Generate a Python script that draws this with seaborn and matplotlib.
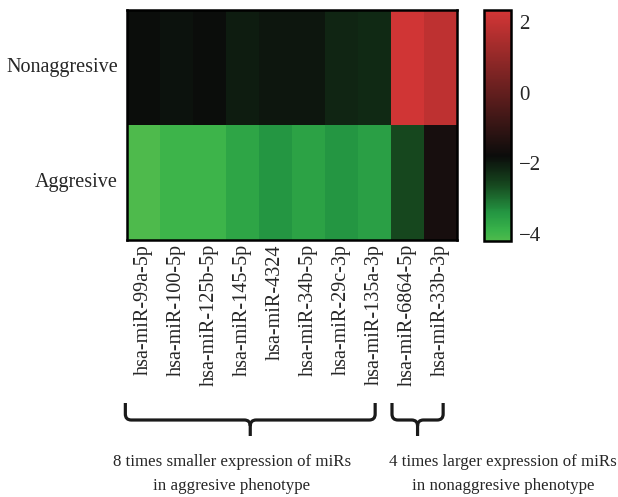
import numpy as np
import pandas as pd
import matplotlib
matplotlib.use("Agg")
import matplotlib.pyplot as plt
import seaborn as sns
from matplotlib.colors import LinearSegmentedColormap
from matplotlib.path import Path
from matplotlib.patches import PathPatch
from matplotlib.transforms import blended_transform_factory

# ---------------- data ----------------
mirnas = ["hsa-miR-99a-5p", "hsa-miR-100-5p", "hsa-miR-125b-5p", "hsa-miR-145-5p",
          "hsa-miR-4324", "hsa-miR-34b-5p", "hsa-miR-29c-3p", "hsa-miR-135a-3p",
          "hsa-miR-6864-5p", "hsa-miR-33b-3p"]
phenotypes = ["Nonaggresive", "Aggresive"]
nonaggressive_values = [-1.82, -1.88, -1.82, -2.0, -1.93, -1.93, -2.15, -2.2, 2.27, 1.88]
aggressive_values = [-4.2, -3.95, -3.95, -3.65, -3.4, -3.6, -3.4, -3.55, -2.6, -1.55]
colorbar_ticks = [2, 0, -2, -4]
group_text = ["8 times smaller expression of miRs\nin aggresive phenotype",
              "4 times larger expression of miRs\nin nonaggresive phenotype"]

df = pd.DataFrame([nonaggressive_values, aggressive_values], index=phenotypes, columns=mirnas)

# ---------------- style ----------------
sns.set_style("white")
plt.rcParams["font.family"] = ["Liberation Serif", "DejaVu Serif"]
plt.rcParams["axes.unicode_minus"] = True

vmin, vmax = -4.2, 2.35
stops_v = [-4.2, -3.9, -3.4, -2.6, -1.8, 2.35]
stops_c = ["#4eba4c", "#38b24a", "#249642", "#16461e", "#0b0c0b", "#d43636"]
cmap = LinearSegmentedColormap.from_list(
    "gbr", [((v - vmin) / (vmax - vmin), c) for v, c in zip(stops_v, stops_c)])

fig = plt.figure(figsize=(6.18, 4.97), dpi=100)
W, H = 618, 497
ax = fig.add_axes([127 / W, 1 - 240 / H, 330 / W, 230 / H])
cax = fig.add_axes([484 / W, 1 - 241 / H, 27 / W, 231 / H])

sns.heatmap(df, ax=ax, cbar_ax=cax, cmap=cmap, vmin=vmin, vmax=vmax,
            cbar_kws={"ticks": colorbar_ticks})

for sp in ax.spines.values():
    sp.set_visible(True)
    sp.set_linewidth(1.8)
    sp.set_color("black")

ax.tick_params(axis="both", length=0, labelsize=14.5)
ax.tick_params(axis="x", pad=3)
ax.set_xticklabels(mirnas, rotation=90)
ax.set_yticklabels(phenotypes, rotation=0, fontsize=14.5)
ax.tick_params(axis="y", pad=6.5)
ax.set_xlabel("")
ax.set_ylabel("")

cbar = ax.collections[0].colorbar
cbar.outline.set_linewidth(1.8)
cbar.outline.set_edgecolor("black")
cax.tick_params(direction="in", left=True, right=True, length=4, width=1.5,
                color="black", labelsize=15, labelleft=False, labelright=True, pad=6)
cbar.set_ticklabels(["2", "0", "\u22122", "\u22124"])

# ---------------- braces ----------------
trans = blended_transform_factory(ax.transData, fig.transFigure)
brace_extents = [(-0.05, 7.52), (8.03, 9.58)]
ytop, yh, ytip = 1 - 403 / H, 1 - 420 / H, 1 - 436 / H
ey = 0.012
for x0, x1 in brace_extents:
    xm = (x0 + x1) / 2
    dx = 0.18
    verts = [(x0, ytop), (x0, yh + ey), (x0, yh), (x0 + dx, yh),
             (xm - dx, yh), (xm, yh), (xm, yh - ey), (xm, ytip),
             (x1, ytop), (x1, yh + ey), (x1, yh), (x1 - dx, yh),
             (xm + dx, yh), (xm, yh), (xm, yh - ey)]
    codes = [Path.MOVETO, Path.LINETO, Path.CURVE3, Path.CURVE3,
             Path.LINETO, Path.CURVE3, Path.CURVE3, Path.LINETO,
             Path.MOVETO, Path.LINETO, Path.CURVE3, Path.CURVE3,
             Path.LINETO, Path.CURVE3, Path.CURVE3]
    fig.add_artist(PathPatch(Path(verts, codes), transform=trans, fill=False,
                             lw=2.3, edgecolor="#1a1a1a", capstyle="butt",
                             joinstyle="round", clip_on=False))

fig.text(232 / W, 1 - 474 / H, group_text[0], ha="center", va="center",
         fontsize=12.2, linespacing=1.7)
fig.text(503 / W, 1 - 474 / H, group_text[1], ha="center", va="center",
         fontsize=12.2, linespacing=1.7)

fig.savefig("out.png", dpi=100)
